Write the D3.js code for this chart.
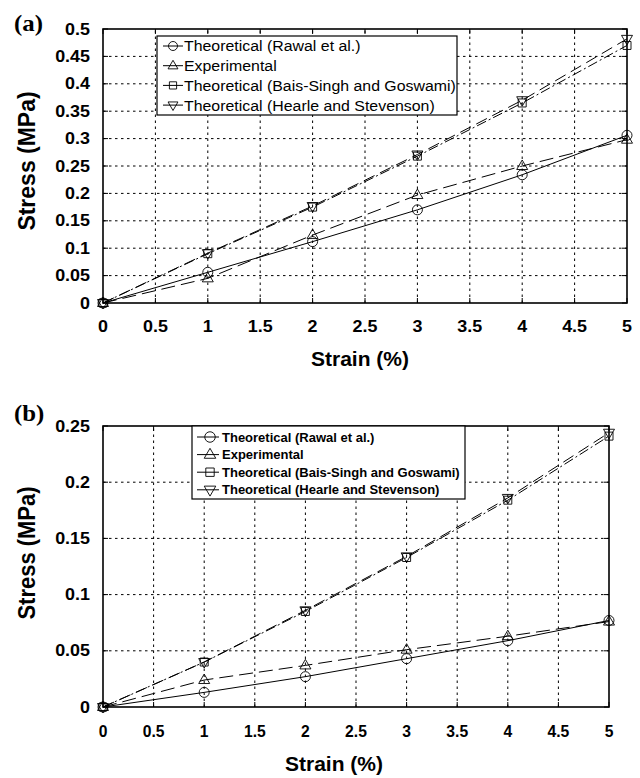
<!DOCTYPE html>
<html><head><meta charset="utf-8">
<script src="https://cdn.jsdelivr.net/npm/d3@7"></script>
<style>
body{margin:0;background:#fff}
text{font-family:"Liberation Sans",Arial,Helvetica,sans-serif;fill:#000}
</style>
</head><body>
<svg id="c" width="640" height="778"></svg>
<script>
// ---------- DATA ----------
const strain = [0, 1, 2, 3, 4, 5];
const seriesNames = [
  "Theoretical (Rawal et al.)",
  "Experimental",
  "Theoretical (Bais-Singh and Goswami)",
  "Theoretical (Hearle and Stevenson)"
];
// panel (a)
const aRawal  = [0, 0.056, 0.112, 0.170, 0.234, 0.306];
const aExp    = [0, 0.045, 0.124, 0.197, 0.250, 0.298];
const aBais   = [0, 0.090, 0.175, 0.268, 0.365, 0.470];
const aHearle = [0, 0.091, 0.177, 0.271, 0.370, 0.482];
// panel (b)
const bRawal  = [0, 0.013, 0.027, 0.043, 0.059, 0.077];
const bExp    = [0, 0.024, 0.037, 0.051, 0.063, 0.076];
const bBais   = [0, 0.040, 0.085, 0.133, 0.184, 0.241];
const bHearle = [0, 0.040, 0.086, 0.134, 0.186, 0.244];
// ticks
const xTicks  = [0, 0.5, 1, 1.5, 2, 2.5, 3, 3.5, 4, 4.5, 5];
const aYTicks = [0, 0.05, 0.1, 0.15, 0.2, 0.25, 0.3, 0.35, 0.4, 0.45, 0.5];
const bYTicks = [0, 0.05, 0.1, 0.15, 0.2, 0.25];
const xTitle = "Strain (%)";
const yTitle = "Stress (MPa)";

// ---------- STYLE ----------
const markers = ["circle", "up", "square", "down"];
const dashes  = [null, "14,6", "10,3,2,3", "12,6"];
function markerPath(type, s) {
  s = s || 1;
  if (type === "circle") { const r = 5 * s; return `M${r},0A${r},${r} 0 1 1 ${-r},0A${r},${r} 0 1 1 ${r},0Z`; }
  if (type === "up") return `M0,${-6*s}L${5.5*s},${3.5*s}L${-5.5*s},${3.5*s}Z`;
  if (type === "down") return `M0,${6*s}L${5.5*s},${-3.5*s}L${-5.5*s},${-3.5*s}Z`;
  const h = 4 * s; return `M${-h},${-h}H${h}V${h}H${-h}Z`;
}

const svg = d3.select("#c");

function txt(g, x, y, s, o) {
  const t = g.append("text")
    .attr("transform", `translate(${x},${y})` + (o.rot ? " rotate(-90)" : "") + ` scale(${o.sx || 1},${o.sy || 1})`)
    .attr("text-anchor", o.anchor || "middle")
    .attr("font-size", o.size)
    .attr("font-weight", o.weight || "bold")
    .text(s);
  if (o.family) t.style("font-family", o.family);
  return t;
}

const panels = [
  { x0: 103, x1: 627, yb: 303, yt: 29, ymax: 0.5, yTicks: aYTicks,
    data: [aRawal, aExp, aBais, aHearle], label: "(a)", labelY: 31,
    tickSxX: 1.12, tickSxY: 1.12, xLabOff: 29, xTitleX: 360, xTitleY: 366, xTitleSize: 21,
    yTitleY: 161, yTitleSize: 23,
    leg: { x: 157, y: 36, w: 300, h: 79, row0: 46, dy: 19.7, size: 15, weight: "normal", sx: 1.06,
           mx: 173, s0: 163, s1: 183, tx: 184, ms: 0.9 } },
  { x0: 103, x1: 609, yb: 707, yt: 426, ymax: 0.25, yTicks: bYTicks,
    data: [bRawal, bExp, bBais, bHearle], label: "(b)", labelY: 421,
    tickSxX: 0.98, tickSxY: 1.12, xLabOff: 30, xTitleX: 334, xTitleY: 771, xTitleSize: 21,
    yTitleY: 553, yTitleSize: 22,
    leg: { x: 192, y: 426, w: 273, h: 73, row0: 437, dy: 17.6, size: 13, weight: "bold", sx: 1.0,
           mx: 210, s0: 197, s1: 219, tx: 222, ms: 1.05 } }
];

panels.forEach(p => {
  const g = svg.append("g");
  const x = d3.scaleLinear().domain([0, 5]).range([p.x0, p.x1]);
  const y = d3.scaleLinear().domain([0, p.ymax]).range([p.yb, p.yt]);

  // grid
  g.append("g").selectAll("line").data(xTicks.slice(1, -1)).join("line")
    .attr("x1", d => x(d)).attr("x2", d => x(d)).attr("y1", p.yb).attr("y2", p.yt)
    .attr("stroke", "#000").attr("stroke-width", 1).attr("stroke-dasharray", "2.5,3.5");
  g.append("g").selectAll("line").data(p.yTicks.slice(1, -1)).join("line")
    .attr("y1", d => y(d)).attr("y2", d => y(d)).attr("x1", p.x0).attr("x2", p.x1)
    .attr("stroke", "#000").attr("stroke-width", 1).attr("stroke-dasharray", "2.5,3.5");

  // inward ticks on all sides
  const tk = g.append("g").attr("stroke", "#000").attr("stroke-width", 1);
  xTicks.forEach(d => {
    tk.append("line").attr("x1", x(d)).attr("x2", x(d)).attr("y1", p.yb).attr("y2", p.yb - 5);
    tk.append("line").attr("x1", x(d)).attr("x2", x(d)).attr("y1", p.yt).attr("y2", p.yt + 5);
  });
  p.yTicks.forEach(d => {
    tk.append("line").attr("y1", y(d)).attr("y2", y(d)).attr("x1", p.x0).attr("x2", p.x0 + 5);
    tk.append("line").attr("y1", y(d)).attr("y2", y(d)).attr("x1", p.x1).attr("x2", p.x1 - 5);
  });

  // series lines
  const line = d3.line().x((d, i) => x(strain[i])).y(d => y(d));
  p.data.forEach((vals, k) => {
    g.append("path").datum(vals).attr("d", line)
      .attr("fill", "none").attr("stroke", "#000").attr("stroke-width", 1)
      .attr("stroke-dasharray", dashes[k]);
  });
  // markers
  p.data.forEach((vals, k) => {
    g.append("g").selectAll("path").data(vals).join("path")
      .attr("transform", (d, i) => `translate(${x(strain[i])},${y(d)})`)
      .attr("d", markerPath(markers[k]))
      .attr("fill", "none").attr("stroke", "#000").attr("stroke-width", 0.9);
  });

  // frame
  g.append("rect").attr("x", p.x0).attr("y", p.yt).attr("width", p.x1 - p.x0).attr("height", p.yb - p.yt)
    .attr("fill", "none").attr("stroke", "#000").attr("stroke-width", 1.6);

  // tick labels
  xTicks.forEach(d => txt(g, x(d), p.yb + p.xLabOff, d3.format("~g")(d), { size: 16, sx: p.tickSxX }));
  p.yTicks.forEach(d => txt(g, 90, y(d) + 5.6, d3.format("~g")(d), { size: 16, sx: p.tickSxY, anchor: "end" }));

  // titles
  txt(g, p.xTitleX, p.xTitleY, xTitle, { size: p.xTitleSize });
  txt(g, 35, p.yTitleY, yTitle, { size: p.yTitleSize, rot: true, sy: 1.08 });
  txt(g, 14, p.labelY, p.label, { size: 23, sx: 1.08, anchor: "start", family: '"Liberation Serif","Times New Roman",serif' });

  // legend
  const L = p.leg;
  const lg = g.append("g");
  lg.append("rect").attr("x", L.x).attr("y", L.y).attr("width", L.w).attr("height", L.h)
    .attr("fill", "#fff").attr("stroke", "#000").attr("stroke-width", 1.2);
  seriesNames.forEach((name, k) => {
    const ry = L.row0 + k * L.dy;
    lg.append("line").attr("x1", L.s0).attr("x2", L.s1).attr("y1", ry).attr("y2", ry)
      .attr("stroke", "#000").attr("stroke-width", 1);
    lg.append("path").attr("transform", `translate(${L.mx},${ry})`).attr("d", markerPath(markers[k], L.ms))
      .attr("fill", "none").attr("stroke", "#000").attr("stroke-width", 0.9);
    txt(lg, L.tx, ry + L.size * 0.36, name, { size: L.size, weight: L.weight, sx: L.sx, anchor: "start" });
  });
});
</script>
</body></html>
